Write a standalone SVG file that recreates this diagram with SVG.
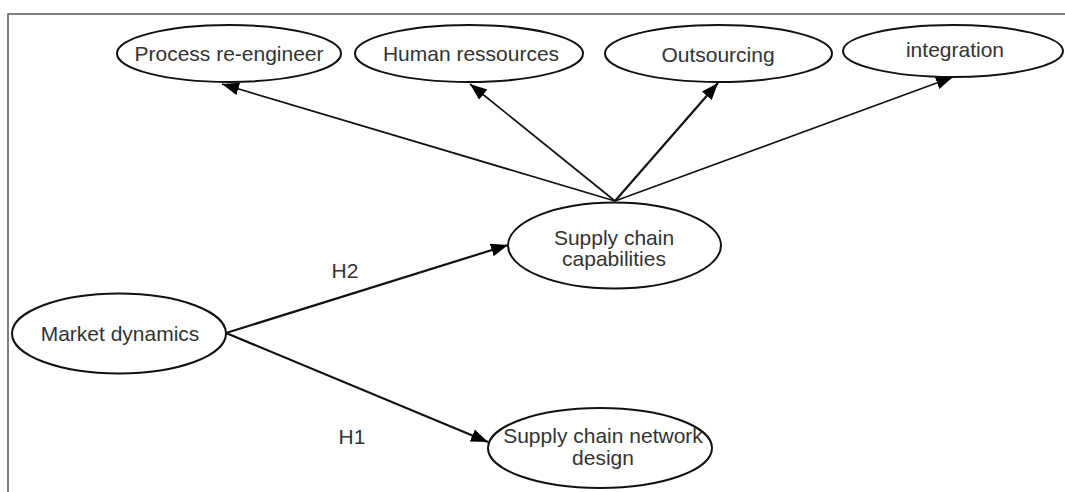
<svg xmlns="http://www.w3.org/2000/svg" width="1065" height="492" viewBox="0 0 1065 492">
  <style>
    .node ellipse { fill: #ffffff; stroke: #111111; stroke-width: 2; }
    .lbl { font-family: "Liberation Sans", Arial, sans-serif; font-size: 21px; fill: #333333; text-anchor: middle; }
    .edge { stroke: #111111; stroke-width: 1.7; fill: none; marker-end: url(#arrow); }
    .edge.thick { stroke-width: 2.2; }
    .frame { stroke: #555555; stroke-width: 1.5; fill: none; }
  </style>
  <defs>
    <marker id="arrow" markerUnits="userSpaceOnUse" markerWidth="18" markerHeight="14" refX="17" refY="6.5" orient="auto">
      <path d="M0,0 L17,6.5 L0,13 z" fill="#000000"/>
    </marker>
  </defs>
  <rect x="0" y="0" width="1065" height="492" fill="#ffffff"/>
  <path class="frame" d="M8,492 V14 H1065"/>

  <g id="connectors">
    <line class="edge" x1="615" y1="201" x2="222" y2="84"/>
    <line class="edge" x1="615" y1="201" x2="470" y2="84"/>
    <line class="edge thick" x1="615" y1="201" x2="718" y2="83"/>
    <line class="edge" x1="615" y1="201" x2="953" y2="77"/>
    <line class="edge thick" x1="226" y1="333" x2="508" y2="245"/>
    <line class="edge thick" x1="226" y1="333" x2="488" y2="442"/>
    <text class="lbl" x="345" y="278">H2</text>
    <text class="lbl" x="352" y="444">H1</text>
  </g>

  <g id="process-reengineer" class="node">
    <ellipse cx="229" cy="53.5" rx="112" ry="28.5"/>
    <text class="lbl" x="229" y="61">Process re-engineer</text>
  </g>
  <g id="human-ressources" class="node">
    <ellipse cx="469" cy="53.5" rx="114" ry="28.5"/>
    <text class="lbl" x="471" y="61">Human ressources</text>
  </g>
  <g id="outsourcing" class="node">
    <ellipse cx="718.5" cy="53.5" rx="113.5" ry="28.5"/>
    <text class="lbl" x="718" y="62">Outsourcing</text>
  </g>
  <g id="integration" class="node">
    <ellipse cx="953" cy="51" rx="110" ry="26"/>
    <text class="lbl" x="955" y="57">integration</text>
  </g>
  <g id="supply-chain-capabilities" class="node">
    <ellipse cx="614.5" cy="245.5" rx="106.5" ry="43"/>
    <text class="lbl" x="614" y="245">Supply chain</text>
    <text class="lbl" x="614" y="266">capabilities</text>
  </g>
  <g id="market-dynamics" class="node">
    <ellipse cx="119" cy="333.5" rx="107" ry="40"/>
    <text class="lbl" x="120" y="341">Market dynamics</text>
  </g>
  <g id="supply-chain-network-design" class="node">
    <ellipse cx="600" cy="448" rx="112" ry="40"/>
    <text class="lbl" x="603" y="443">Supply chain network</text>
    <text class="lbl" x="603" y="465">design</text>
  </g>
</svg>
